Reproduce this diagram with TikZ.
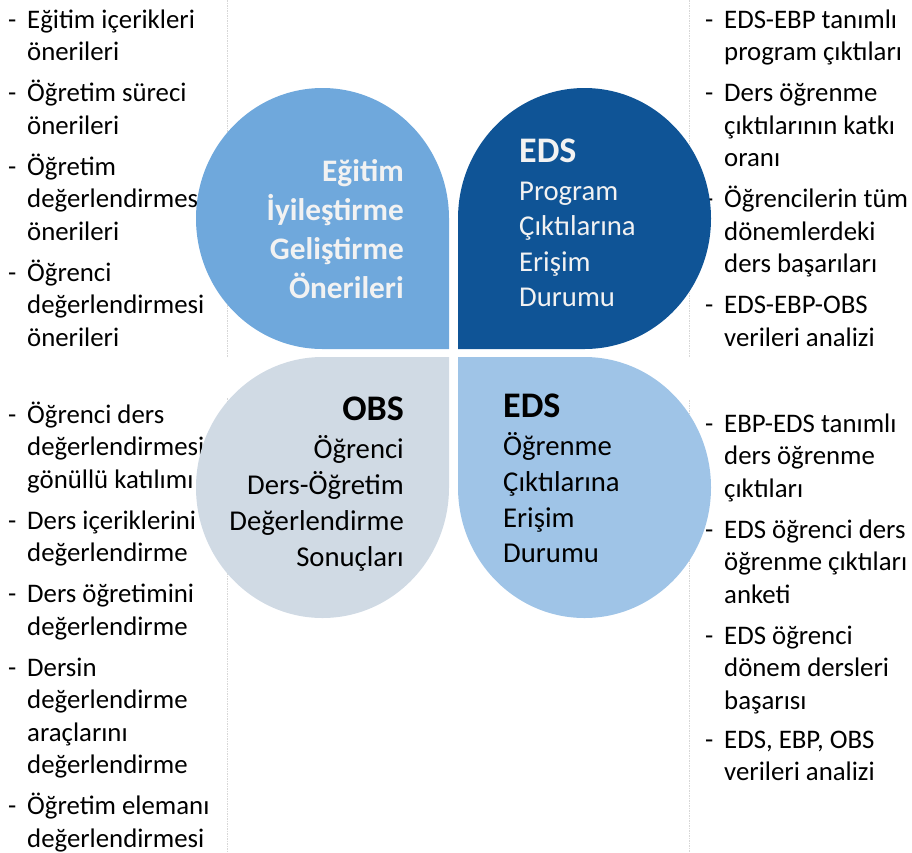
\documentclass[tikz,border=0pt]{standalone}
\usepackage{fontspec}
\setmainfont{Carlito}
\definecolor{cTL}{RGB}{111,168,220}
\definecolor{cTR}{RGB}{15,84,150}
\definecolor{cBL}{RGB}{208,218,228}
\definecolor{cBR}{RGB}{159,196,231}
\definecolor{cLight}{RGB}{242,242,242}
\definecolor{cGrid}{RGB}{215,215,215}
\begin{document}
\begin{tikzpicture}[x=1pt,y=-1pt,
  lst/.style={inner sep=0pt, anchor=base west, font=\fontsize{26.8pt}{32pt}\selectfont},
  headb/.style={inner sep=0pt, font=\bfseries\fontsize{36pt}{40pt}\selectfont},
  bodyr/.style={inner sep=0pt, font=\fontsize{28.7pt}{34pt}\selectfont},
  bodyb/.style={inner sep=0pt, font=\bfseries\fontsize{31.3pt}{37pt}\selectfont},
  gridln/.style={draw=cGrid, line width=0.6pt, dash pattern=on 1.5pt off 1pt}]
\useasboundingbox (0,0) rectangle (912,852);
% faint grid lines
\coordinate (g1a) at (227,0);   \coordinate (g1b) at (227,357);
\coordinate (g1c) at (227,398); \coordinate (g1d) at (227,852);
\coordinate (g2a) at (689,0);   \coordinate (g2b) at (689,357);
\coordinate (g2c) at (689,400); \coordinate (g2d) at (689,852);
\draw[gridln] (g1a) -- (g1b);
\draw[gridln] (g1c) -- (g1d);
\draw[gridln] (g2a) -- (g2b);
\draw[gridln] (g2c) -- (g2d);
% left lists
\foreach \y [count=\i] in {28,101.5,175,281,423,529,602.5,676,814.5}
  \node[lst] (ld\i) at (8,\y) {-};
\foreach \y/\t [count=\i] in {28/{Eğitim içerikleri},60.5/{önerileri},
  101.5/{Öğretim süreci},134/{önerileri},
  175/{Öğretim},207.5/{değerlendirmesi},240/{önerileri},
  281/{Öğrenci},313.5/{değerlendirmesi},346/{önerileri},
  423/{Öğrenci ders},455.5/{değerlendirmesi},488/{gönüllü katılımı},
  529/{Ders içeriklerini},561.5/{değerlendirme},
  602.5/{Ders öğretimini},635/{değerlendirme},
  676/{Dersin},708.5/{değerlendirme},741/{araçlarını},773.5/{değerlendirme},
  814.5/{Öğretim elemanı},847/{değerlendirmesi}}
  \node[lst] (lt\i) at (27,\y) {\t};
% right lists
\foreach \y [count=\i] in {28,101.5,207.5,313.5,432,538,644,748}
  \node[lst] (rd\i) at (705,\y) {-};
\foreach \y/\t [count=\i] in {28/{EDS-EBP tanımlı},60.5/{program çıktıları},
  101.5/{Ders öğrenme},134/{çıktılarının katkı},166.5/{oranı},
  207.5/{Öğrencilerin tüm},240/{dönemlerdeki},272.5/{ders başarıları},
  313.5/{EDS-EBP-OBS},346/{verileri analizi},
  432/{EBP-EDS tanımlı},464.5/{ders öğrenme},497/{çıktıları},
  538/{EDS öğrenci ders},570.5/{öğrenme çıktıları},603/{anketi},
  644/{EDS öğrenci},676.5/{dönem dersleri},709/{başarısı},
  748/{EDS, EBP, OBS},780.5/{verileri analizi}}
  \node[lst] (rt\i) at (724,\y) {\t};
% four petals
\fill[cTL] (449,349) -- (449,218.5) arc[start angle=0, end angle=-270, x radius=126.5, y radius=130.5] -- cycle;
\fill[cTR] (458,349) -- (584.5,349) arc[start angle=90, end angle=-180, x radius=126.5, y radius=130.5] -- cycle;
\fill[cBL] (449,357) -- (322.5,357) arc[start angle=-90, end angle=-360, x radius=126.5, y radius=130.5] -- cycle;
\fill[cBR] (458,357) -- (458,487.5) arc[start angle=180, end angle=-90, x radius=126.5, y radius=130.5] -- cycle;
% top-left text
\foreach \y/\t [count=\i] in {181/{Eğitim},220/{İyileştirme},259/{Geliştirme},298/{Önerileri}}
  \node[bodyb, text=cLight, anchor=base east] (tl\i) at (404,\y) {\t};
% top-right text
\node[headb, text=cLight, anchor=base west] (trh) at (519,162) {EDS};
\foreach \y/\t [count=\i] in {200/{Program},235.6/{Çıktılarına},271.2/{Erişim},306.8/{Durumu}}
  \node[bodyr, text=cLight, anchor=base west] (tr\i) at (519,\y) {\t};
% bottom-left text
\node[headb, anchor=base east] (blh) at (404,420) {OBS};
\foreach \y/\t [count=\i] in {458/{Öğrenci},494/{Ders-Öğretim},530/{Değerlendirme},566/{Sonuçları}}
  \node[bodyr, anchor=base east] (bl\i) at (404,\y) {\t};
% bottom-right text
\node[headb, anchor=base west] (brh) at (503,417) {EDS};
\foreach \y/\t [count=\i] in {455/{Öğrenme},491/{Çıktılarına},527/{Erişim},562/{Durumu}}
  \node[bodyr, anchor=base west] (br\i) at (503,\y) {\t};
\end{tikzpicture}
\end{document}
